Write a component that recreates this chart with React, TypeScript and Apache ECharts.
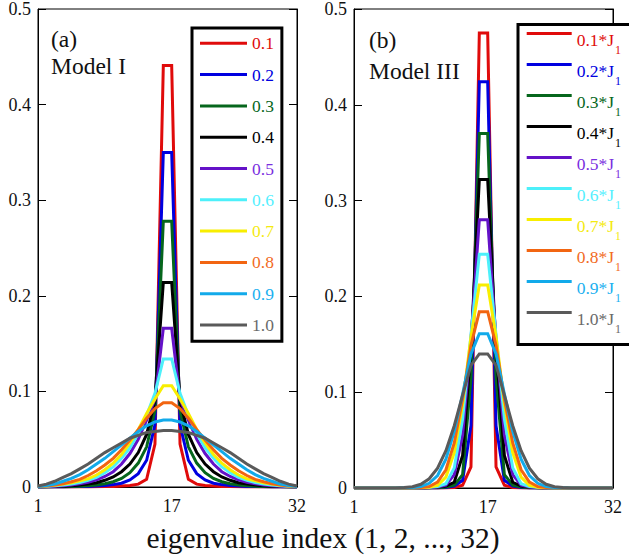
import React, { useEffect, useRef } from "react";
import * as echarts from "echarts";

const FONT = '"Liberation Serif", "Times New Roman", serif';

const indices = [1, 2, 3, 4, 5, 6, 7, 8, 9, 10, 11, 12, 13, 14, 15, 16, 17, 18, 19, 20, 21, 22, 23, 24, 25, 26, 27, 28, 29, 30, 31, 32];
const xTickLabels = [1, 17, 32];

const namesA = ["0.1", "0.2", "0.3", "0.4", "0.5", "0.6", "0.7", "0.8", "0.9", "1.0"];
const namesB = ["0.1*J1", "0.2*J1", "0.3*J1", "0.4*J1", "0.5*J1", "0.6*J1", "0.7*J1", "0.8*J1", "0.9*J1", "1.0*J1"];
const lineColors = ["#e00b0b", "#0000e0", "#06661c", "#000000", "#6412c8", "#4df0fa", "#f8ee00", "#f26511", "#12aaea", "#5a5a5a"];
const textColors = ["#e00b0b", "#0000e0", "#06661c", "#000000", "#7a2ee0", "#55f0ff", "#f4ea10", "#f26b1e", "#20b0f0", "#6a6a6a"];

// Model I (panel a)
const modelI_01 = [0, 0, 0, 0, 0, 0, 0, 0.0002, 0.0004, 0.0006, 0.001, 0.0015, 0.003, 0.008, 0.045, 0.441, 0.441, 0.045, 0.008, 0.003, 0.0015, 0.001, 0.0006, 0.0004, 0.0002, 0, 0, 0, 0, 0, 0, 0];
const modelI_02 = [0, 0, 0, 0, 0.0002, 0.0004, 0.0006, 0.001, 0.0015, 0.0025, 0.004, 0.0075, 0.014, 0.028, 0.065, 0.35, 0.35, 0.065, 0.028, 0.014, 0.0075, 0.004, 0.0025, 0.0015, 0.001, 0.0006, 0.0004, 0.0002, 0, 0, 0, 0];
const modelI_03 = [0, 0, 0.0002, 0.0003, 0.0005, 0.0008, 0.0013, 0.002, 0.0035, 0.0055, 0.009, 0.015, 0.025, 0.042, 0.08, 0.278, 0.278, 0.08, 0.042, 0.025, 0.015, 0.009, 0.0055, 0.0035, 0.002, 0.0013, 0.0008, 0.0005, 0.0003, 0.0002, 0, 0];
const modelI_04 = [0.0001, 0.0003, 0.0005, 0.0008, 0.0013, 0.002, 0.003, 0.0045, 0.007, 0.0105, 0.016, 0.024, 0.036, 0.055, 0.09, 0.214, 0.214, 0.09, 0.055, 0.036, 0.024, 0.016, 0.0105, 0.007, 0.0045, 0.003, 0.002, 0.0013, 0.0008, 0.0005, 0.0003, 0.0001];
const modelI_05 = [0.0002, 0.0004, 0.0008, 0.0014, 0.0022, 0.0033, 0.005, 0.0075, 0.011, 0.016, 0.024, 0.035, 0.05, 0.07, 0.092, 0.166, 0.166, 0.092, 0.07, 0.05, 0.035, 0.024, 0.016, 0.011, 0.0075, 0.005, 0.0033, 0.0022, 0.0014, 0.0008, 0.0004, 0.0002];
const modelI_06 = [0.0003, 0.0007, 0.0012, 0.002, 0.0032, 0.0048, 0.007, 0.01, 0.015, 0.021, 0.03, 0.041, 0.056, 0.075, 0.098, 0.134, 0.134, 0.098, 0.075, 0.056, 0.041, 0.03, 0.021, 0.015, 0.01, 0.007, 0.0048, 0.0032, 0.002, 0.0012, 0.0007, 0.0003];
const modelI_07 = [0.0004, 0.001, 0.0018, 0.003, 0.0045, 0.0065, 0.0085, 0.0125, 0.018, 0.025, 0.034, 0.046, 0.06, 0.077, 0.092, 0.106, 0.106, 0.092, 0.077, 0.06, 0.046, 0.034, 0.025, 0.018, 0.0125, 0.0085, 0.0065, 0.0045, 0.003, 0.0018, 0.001, 0.0004];
const modelI_08 = [0.0005, 0.001, 0.002, 0.0035, 0.0055, 0.008, 0.012, 0.017, 0.023, 0.03, 0.039, 0.049, 0.06, 0.072, 0.082, 0.088, 0.088, 0.082, 0.072, 0.06, 0.049, 0.039, 0.03, 0.023, 0.017, 0.012, 0.008, 0.0055, 0.0035, 0.002, 0.001, 0.0005];
const modelI_09 = [0.0005, 0.0015, 0.003, 0.006, 0.009, 0.013, 0.018, 0.024, 0.03, 0.037, 0.044, 0.051, 0.058, 0.064, 0.068, 0.07, 0.07, 0.068, 0.064, 0.058, 0.051, 0.044, 0.037, 0.03, 0.024, 0.018, 0.013, 0.009, 0.006, 0.003, 0.0015, 0.0005];
const modelI_10 = [0.001, 0.003, 0.006, 0.01, 0.014, 0.019, 0.024, 0.03, 0.036, 0.041, 0.046, 0.051, 0.054, 0.057, 0.058, 0.059, 0.059, 0.058, 0.057, 0.054, 0.051, 0.046, 0.041, 0.036, 0.03, 0.024, 0.019, 0.014, 0.01, 0.006, 0.003, 0.001];

// Model III (panel b)
const modelIII_01 = [0, 0, 0, 0, 0, 0, 0, 0, 0, 0, 0, 0, 0.0005, 0.003, 0.022, 0.475, 0.475, 0.022, 0.003, 0.0005, 0, 0, 0, 0, 0, 0, 0, 0, 0, 0, 0, 0];
const modelIII_02 = [0, 0, 0, 0, 0, 0, 0, 0, 0, 0, 0, 0.0005, 0.002, 0.008, 0.065, 0.424, 0.424, 0.065, 0.008, 0.002, 0.0005, 0, 0, 0, 0, 0, 0, 0, 0, 0, 0, 0];
const modelIII_03 = [0, 0, 0, 0, 0, 0, 0, 0, 0, 0, 0.0003, 0.001, 0.003, 0.014, 0.115, 0.37, 0.37, 0.115, 0.014, 0.003, 0.001, 0.0003, 0, 0, 0, 0, 0, 0, 0, 0, 0, 0];
const modelIII_04 = [0, 0, 0, 0, 0, 0, 0, 0, 0, 0.0003, 0.001, 0.002, 0.006, 0.034, 0.145, 0.322, 0.322, 0.145, 0.034, 0.006, 0.002, 0.001, 0.0003, 0, 0, 0, 0, 0, 0, 0, 0, 0];
const modelIII_05 = [0, 0, 0, 0, 0, 0, 0, 0, 0, 0.0005, 0.001, 0.003, 0.014, 0.055, 0.155, 0.28, 0.28, 0.155, 0.055, 0.014, 0.003, 0.001, 0.0005, 0, 0, 0, 0, 0, 0, 0, 0, 0];
const modelIII_06 = [0, 0, 0, 0, 0, 0, 0, 0, 0.0003, 0.0007, 0.0015, 0.0045, 0.021, 0.072, 0.16, 0.244, 0.244, 0.16, 0.072, 0.021, 0.0045, 0.0015, 0.0007, 0.0003, 0, 0, 0, 0, 0, 0, 0, 0];
const modelIII_07 = [0, 0, 0, 0, 0, 0, 0, 0, 0.0003, 0.0008, 0.0027, 0.0114, 0.037, 0.088, 0.158, 0.212, 0.212, 0.158, 0.088, 0.037, 0.0114, 0.0027, 0.0008, 0.0003, 0, 0, 0, 0, 0, 0, 0, 0];
const modelIII_08 = [0, 0, 0, 0, 0, 0, 0, 0.0003, 0.0006, 0.0016, 0.0061, 0.019, 0.047, 0.093, 0.149, 0.184, 0.184, 0.149, 0.093, 0.047, 0.019, 0.0061, 0.0016, 0.0006, 0.0003, 0, 0, 0, 0, 0, 0, 0];
const modelIII_09 = [0, 0, 0, 0, 0, 0, 0.0002, 0.0004, 0.0015, 0.0049, 0.013, 0.03, 0.059, 0.098, 0.14, 0.161, 0.161, 0.14, 0.098, 0.059, 0.03, 0.013, 0.0049, 0.0015, 0.0004, 0.0002, 0, 0, 0, 0, 0, 0];
const modelIII_10 = [0, 0, 0, 0, 0, 0.0001, 0.0005, 0.0014, 0.0039, 0.0096, 0.0206, 0.039, 0.065, 0.097, 0.128, 0.14, 0.14, 0.128, 0.097, 0.065, 0.039, 0.0206, 0.0096, 0.0039, 0.0014, 0.0005, 0.0001, 0, 0, 0, 0, 0];

const valuesA = [modelI_01, modelI_02, modelI_03, modelI_04, modelI_05, modelI_06, modelI_07, modelI_08, modelI_09, modelI_10];
const valuesB = [modelIII_01, modelIII_02, modelIII_03, modelIII_04, modelIII_05, modelIII_06, modelIII_07, modelIII_08, modelIII_09, modelIII_10];

const makeX = (gridIndex: number) => ({
  type: "value",
  gridIndex,
  min: 1,
  max: 32,
  interval: 1,
  axisLine: { show: true, onZero: false, lineStyle: { color: "#000", width: 1 } },
  axisTick: { show: false },
  splitLine: { show: false },
  axisLabel: {
    margin: 10,
    fontFamily: FONT,
    fontSize: 18,
    color: "#111",
    showMinLabel: true,
    showMaxLabel: true,
    formatter: (v: number) => (xTickLabels.indexOf(v) >= 0 ? String(v) : ""),
  },
});

const makeY = (gridIndex: number, position: string) => ({
  type: "value",
  gridIndex,
  position,
  min: 0,
  max: 0.5,
  interval: 0.1,
  axisLine: { show: true, onZero: false, lineStyle: { color: "#000", width: 1 } },
  axisTick: { show: true, inside: true, length: 8, lineStyle: { color: "#000", width: 1 } },
  splitLine: { show: false },
  axisLabel: {
    show: position === "left",
    margin: 7,
    fontFamily: FONT,
    fontSize: 18,
    color: "#111",
  },
});

export default function App() {
  const ref = useRef<HTMLDivElement>(null);
  useEffect(() => {
    if (!ref.current) return;
    const chart = echarts.init(ref.current, undefined, { renderer: "svg" });

    const seriesA = namesA.map((name, i) => ({
      type: "line",
      name,
      xAxisIndex: 0,
      yAxisIndex: 0,
      showSymbol: false,
      symbol: "none",
      lineStyle: { color: lineColors[i], width: 3, join: "miter" },
      itemStyle: { color: lineColors[i] },
      data: indices.map((x, k) => [x, valuesA[i][k]]),
    }));
    const seriesB = namesB.map((name, i) => ({
      type: "line",
      name,
      xAxisIndex: 1,
      yAxisIndex: 2,
      showSymbol: false,
      symbol: "none",
      lineStyle: { color: lineColors[i], width: 3, join: "miter" },
      itemStyle: { color: lineColors[i] },
      data: indices.map((x, k) => [x, valuesB[i][k]]),
    }));

    const txt = (text: string, x: number, y: number, size: number, align: string) => ({
      type: "text",
      x,
      y,
      style: { text, fontFamily: FONT, fontSize: size, fill: "#111", align, verticalAlign: "middle", textAlign: align, textVerticalAlign: "middle" },
    });

    chart.setOption({
      animation: false,
      backgroundColor: "#fff",
      grid: [
        { left: 38, top: 9, width: 259, height: 478, show: true, borderColor: "#000", borderWidth: 1, backgroundColor: "transparent" },
        { left: 354, top: 9, width: 259, height: 479, show: true, borderColor: "#000", borderWidth: 1, backgroundColor: "transparent" },
      ],
      xAxis: [makeX(0), makeX(1)],
      yAxis: [makeY(0, "left"), makeY(0, "right"), makeY(1, "left"), makeY(1, "right")],
      legend: [
        {
          left: 192,
          top: 28,
          orient: "vertical",
          icon: "rect",
          itemWidth: 47,
          itemHeight: 3,
          itemGap: 13.3,
          padding: [6.3, 8, 7.3, 8],
          borderColor: "#000",
          borderWidth: 3,
          backgroundColor: "#fff",
          selectedMode: false,
          textStyle: { fontFamily: FONT, fontSize: 17.5, lineHeight: 18 },
          data: namesA.map((name, i) => ({ name, textStyle: { color: textColors[i] } })),
        },
        {
          left: 518,
          top: 24.5,
          orient: "vertical",
          icon: "rect",
          itemWidth: 45,
          itemHeight: 3,
          itemGap: 0,
          padding: [0, 12, 10, 8.7],
          borderColor: "#000",
          borderWidth: 3,
          backgroundColor: "#fff",
          selectedMode: false,
          formatter: (name: string) => `{t|${name.slice(0, -1)}}{s|${name.slice(-1)}}`,
          textStyle: {
            fontFamily: FONT,
            fontSize: 17.5,
            rich: {
              t: { fontFamily: FONT, fontSize: 17.5, lineHeight: 18, padding: [6.5, 0, 0, 0], verticalAlign: "top", color: "inherit" },
              s: { fontFamily: FONT, fontSize: 12, lineHeight: 12, padding: [19, 0, 0, 1], verticalAlign: "top", color: "inherit" },
            },
          },
          data: namesB.map((name, i) => ({ name, textStyle: { color: textColors[i] } })),
        },
      ],
      graphic: [
        txt("(a)", 51, 38.5, 23.5, "left"),
        txt("Model I", 51, 66, 23.5, "left"),
        txt("(b)", 369, 40, 23.5, "left"),
        txt("Model III", 369, 71, 23.5, "left"),
        txt("eigenvalue index (1, 2, ..., 32)", 323, 538, 29.5, "center"),
      ],
      series: [...seriesA, ...seriesB],
    });
    return () => chart.dispose();
  }, []);
  return <div ref={ref} style={{ position: "absolute", left: 0, top: 0, width: 629, height: 558 }} />;
}
